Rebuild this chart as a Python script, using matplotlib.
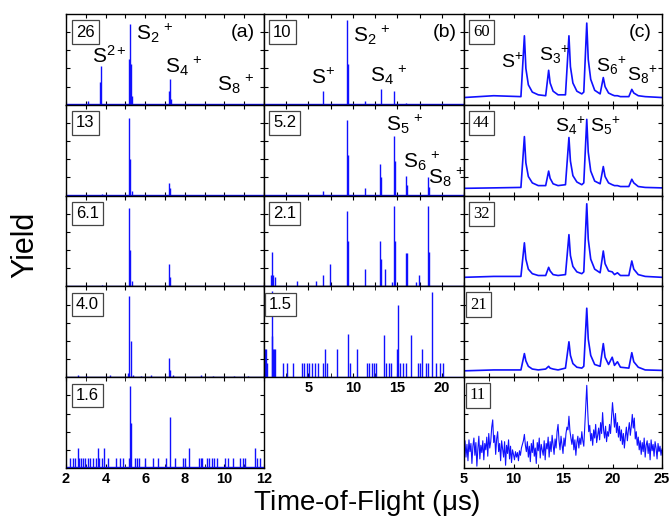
import numpy as np
import matplotlib
matplotlib.use('Agg')
import matplotlib.pyplot as plt

plt.rcParams['font.family'] = 'Liberation Sans'
plt.rcParams['mathtext.fontset'] = 'custom'
plt.rcParams['mathtext.rm'] = 'Liberation Sans'
plt.rcParams['mathtext.it'] = 'Liberation Sans'

# ---- column (a): stick spectra, TOF 2-12 us ----
a_energy = ['26', '13', '6.1', '4.0', '1.6']
tof_a1 = [3.13, 3.74, 3.78, 5.16, 5.22, 5.28, 5.34, 7.19, 7.23, 7.28]
yld_a1 = [0.04, 0.25, 0.43, 0.50, 0.89, 0.45, 0.10, 0.15, 0.28, 0.06]
tof_a2 = [3.80, 5.20, 5.24, 5.32, 7.20, 7.24]
yld_a2 = [0.02, 0.85, 0.40, 0.05, 0.135, 0.08]
tof_a3 = [3.80, 5.20, 5.24, 5.32, 7.22, 7.26]
yld_a3 = [0.02, 0.86, 0.40, 0.06, 0.25, 0.10]
tof_a4 = [2.6, 3.0, 4.2, 5.12, 5.20, 5.26, 5.40, 5.8, 6.3, 7.22, 7.26, 7.4, 8.8, 9.4, 10.5, 11.2]
yld_a4 = [0.02, 0.015, 0.025, 0.05, 0.89, 0.40, 0.02, 0.015, 0.02, 0.21, 0.08, 0.02, 0.02, 0.015, 0.015, 0.015]
tof_a5 = [2.20, 2.34, 2.45, 2.62, 2.67, 2.76, 2.88, 2.96, 3.13, 3.21, 3.38, 3.52, 3.60, 3.68,
          3.80, 3.92, 4.14, 4.53, 4.73, 4.90, 5.18, 5.22, 5.26, 5.48, 5.57, 5.70, 5.99, 6.41,
          6.66, 7.05, 7.25, 7.50, 7.93, 8.01, 8.23, 8.73, 8.80, 8.85, 9.10, 9.24, 9.36, 9.47,
          9.61, 10.03, 10.20, 10.42, 10.79, 10.92, 11.04, 11.55, 11.63, 11.80]
yld_a5 = [0.11, 0.11, 0.11, 0.22, 0.11, 0.11, 0.11, 0.11, 0.11, 0.11, 0.11, 0.11, 0.22, 0.11,
          0.11, 0.22, 0.11, 0.11, 0.11, 0.11, 0.11, 0.90, 0.50, 0.11, 0.11, 0.11, 0.11, 0.11,
          0.11, 0.11, 0.56, 0.11, 0.11, 0.11, 0.22, 0.11, 0.11, 0.11, 0.11, 0.11, 0.11, 0.11,
          0.11, 0.11, 0.11, 0.11, 0.11, 0.11, 0.11, 0.22, 0.11, 0.11]

# ---- column (b): stick spectra, TOF 0-22.5 us ----
b_energy = ['10', '5.2', '2.1', '1.5']
tof_b1 = [6.6, 9.36, 9.40, 11.4, 13.15, 14.65, 16.0, 18.6]
yld_b1 = [0.15, 0.93, 0.45, 0.044, 0.17, 0.156, 0.02, 0.01]
tof_b2 = [6.6, 9.36, 9.40, 11.4, 13.1, 13.15, 14.65, 14.70, 16.0, 16.05, 18.5, 18.55]
yld_b2 = [0.048, 0.83, 0.45, 0.085, 0.35, 0.20, 0.66, 0.38, 0.22, 0.12, 0.21, 0.10]
tof_b3 = [0.8, 0.94, 1.05, 1.2, 3.67, 5.84, 6.6, 7.42, 9.36, 9.40, 11.4, 13.1, 13.15, 13.6,
          14.4, 14.65, 14.7, 16.0, 16.05, 17.1, 17.4, 18.5, 18.55]
yld_b3 = [0.13, 0.38, 0.13, 0.10, 0.055, 0.055, 0.13, 0.25, 0.83, 0.50, 0.19, 0.50, 0.30, 0.19,
          0.05, 0.88, 0.50, 0.37, 0.37, 0.05, 0.13, 0.88, 0.38]
tof_b4 = [0.05, 0.15, 0.25, 0.35, 0.85, 0.95, 1.05, 1.15, 1.25, 2.10, 2.62, 3.30, 4.23, 4.49,
          4.79, 5.09, 5.36, 5.73, 6.10, 6.67, 6.85, 7.04, 8.16, 9.48, 9.66, 10.41, 11.61, 11.84,
          12.10, 12.36, 12.58, 13.48, 13.71, 14.08, 14.34, 14.91, 15.02, 15.28, 15.66, 16.03,
          16.59, 17.34, 17.60, 17.83, 18.20, 18.46, 18.95, 19.40, 19.78, 20.15]
yld_b4 = [0.31, 0.31, 0.31, 0.16, 0.45, 0.95, 0.31, 0.31, 0.31, 0.16, 0.16, 0.16, 0.16, 0.16,
          0.16, 0.16, 0.16, 0.16, 0.16, 0.16, 0.31, 0.16, 0.31, 0.48, 0.16, 0.31, 0.16, 0.16,
          0.16, 0.16, 0.16, 0.47, 0.16, 0.16, 0.16, 0.31, 0.79, 0.16, 0.16, 0.16,
          0.47, 0.16, 0.16, 0.31, 0.16, 0.16, 0.94, 0.16, 0.16, 0.16]

# ---- column (c): continuous traces, TOF 5-25 us ----
c_energy = ['60', '44', '32', '21', '11']
tof_c = [5.0, 8.0, 10.75, 11.1, 11.25, 11.5, 11.9, 12.5, 13.25, 13.55, 13.7, 14.0, 14.5, 15.25,
         15.6, 15.75, 16.0, 16.4, 16.9, 17.1, 17.4, 17.55, 17.8, 18.2, 18.75, 19.07, 19.25,
         19.6, 19.97, 20.2, 20.5, 20.8, 21.65, 21.95, 22.15, 22.6, 23.3, 25.0]
yld_c1 = [0.08, 0.10, 0.09, 0.76, 0.40, 0.22, 0.14, 0.11, 0.10, 0.38, 0.24, 0.15, 0.11, 0.11,
          0.76, 0.42, 0.24, 0.15, 0.12, 0.14, 0.90, 0.50, 0.28, 0.16, 0.12, 0.30, 0.20,
          0.13, 0.11, 0.10, 0.10, 0.09, 0.09, 0.17, 0.13, 0.10, 0.09, 0.08]
yld_c2 = [0.08, 0.085, 0.09, 0.65, 0.36, 0.21, 0.14, 0.11, 0.11, 0.27, 0.19, 0.13, 0.11, 0.12,
          0.64, 0.38, 0.22, 0.15, 0.12, 0.14, 0.84, 0.48, 0.27, 0.16, 0.13, 0.32, 0.21,
          0.14, 0.12, 0.11, 0.11, 0.10, 0.10, 0.18, 0.14, 0.10, 0.09, 0.085]
yld_c3 = [0.10, 0.11, 0.11, 0.48, 0.30, 0.19, 0.14, 0.12, 0.12, 0.21, 0.17, 0.13, 0.12, 0.13,
          0.57, 0.34, 0.22, 0.16, 0.14, 0.16, 0.91, 0.52, 0.30, 0.19, 0.15, 0.39, 0.25,
          0.17, 0.16, 0.13, 0.15, 0.12, 0.12, 0.28, 0.19, 0.13, 0.11, 0.10]
yld_c4 = [0.07, 0.08, 0.08, 0.26, 0.18, 0.12, 0.09, 0.08, 0.09, 0.12, 0.10, 0.09, 0.08, 0.10,
          0.39, 0.24, 0.15, 0.11, 0.10, 0.12, 0.76, 0.42, 0.24, 0.14, 0.12, 0.37, 0.22,
          0.14, 0.22, 0.13, 0.17, 0.11, 0.10, 0.27, 0.17, 0.11, 0.08, 0.075]
tof_c5 = np.linspace(5, 25, 201)
yld_c5 = [0.22, 0.30, 0.12, 0.26, 0.08, 0.31, 0.18, 0.27, 0.05, 0.24, 0.33, 0.14, 0.28, 0.02, 0.21, 0.35, 0.10, 0.25, 0.17, 0.30,
          0.09, 0.27, 0.20, 0.34, 0.13, 0.38, 0.22, 0.29, 0.45, 0.53, 0.28, 0.36, 0.15, 0.32, 0.40, 0.18, 0.27, 0.08, 0.30, 0.21,
          0.12, 0.29, 0.03, 0.25, 0.16, 0.31, 0.10, 0.24, 0.06, 0.20, 0.15, 0.09, 0.18, 0.12, 0.17, 0.08, 0.19, 0.14, 0.22, 0.26,
          0.30, 0.37, 0.25, 0.18, 0.29, 0.12, 0.24, 0.07, 0.27, 0.17, 0.31, 0.13, 0.22, 0.05, 0.28, 0.19, 0.33, 0.11, 0.26, 0.20,
          0.14, 0.30, 0.09, 0.27, 0.21, 0.34, 0.12, 0.29, 0.18, 0.36, 0.25, 0.15, 0.32, 0.22, 0.40, 0.48, 0.30, 0.20, 0.35, 0.26,
          0.16, 0.33, 0.24, 0.38, 0.45, 0.42, 0.57, 0.41, 0.33, 0.26, 0.37, 0.20, 0.31, 0.14, 0.28, 0.35, 0.22, 0.33, 0.26, 0.40,
          0.30, 0.24, 0.45, 0.68, 0.91, 0.62, 0.40, 0.47, 0.30, 0.38, 0.25, 0.42, 0.33, 0.48, 0.28, 0.36, 0.44, 0.31, 0.50, 0.38,
          0.61, 0.42, 0.33, 0.46, 0.29, 0.40, 0.35, 0.48, 0.38, 0.55, 0.72, 0.58, 0.45, 0.60, 0.39, 0.50, 0.34, 0.46, 0.30, 0.42,
          0.26, 0.38, 0.22, 0.35, 0.45, 0.30, 0.41, 0.50, 0.36, 0.46, 0.59, 0.44, 0.55, 0.32, 0.40, 0.25, 0.34, 0.20, 0.30, 0.15,
          0.28, 0.18, 0.33, 0.12, 0.25, 0.30, 0.16, 0.27, 0.09, 0.31, 0.19, 0.26, 0.13, 0.29, 0.22, 0.10, 0.27, 0.18, 0.24, 0.14, 0.21]

BLUE = '#1010ff'
W, H = 670.0, 529.0
ROW_H = 90.8
TOP = 14.0


def make_ax(fig, left_px, width_px, row):
    top = TOP + row * ROW_H
    ax = fig.add_axes([left_px / W, 1 - (top + ROW_H) / H, width_px / W, ROW_H / H])
    ax.set_ylim(0, 1)
    ax.set_yticks(np.arange(0.2, 1.0, 0.2))
    ax.tick_params(direction='in', length=3, width=0.8, top=True, right=True,
                   labelleft=False, labelbottom=False)
    for s in ax.spines.values():
        s.set_linewidth(1.0)
    return ax


def label_box(ax, txt, x=0.05, serif=False):
    fam = 'Liberation Serif' if serif else 'Liberation Sans'
    ax.text(x, 0.80, txt, transform=ax.transAxes, ha='left', va='center', fontsize=12,
            family=fam, bbox=dict(boxstyle='square,pad=0.25', fc='white', ec='#444444', lw=0.9),
            zorder=5)


def ion(ax, x, y, n, charge='+', size=15, gap=True):
    sp = r'\,' if gap else ''
    if n:
        s = r'S$_{%s}$$^{%s%s}$' % (n, sp, charge)
    else:
        s = r'S$^{%s}$' % charge
    ax.text(x, y, s, transform=ax.transAxes, ha='left', va='baseline', fontsize=size, zorder=6)


def bottom_labels(ax):
    ax.tick_params(which='minor', direction='in', length=3, top=True)
    ax.tick_params(labelbottom=True, pad=3)
    for t in ax.get_xticklabels():
        t.set_fontsize(10.5)
        t.set_fontweight('bold')


fig = plt.figure(figsize=(6.7, 5.29), dpi=100)

# column (a)
a_tof = [tof_a1, tof_a2, tof_a3, tof_a4, tof_a5]
a_yld = [yld_a1, yld_a2, yld_a3, yld_a4, yld_a5]
for r in range(5):
    ax = make_ax(fig, 66, 198, r)
    ax.set_xlim(2, 12)
    ax.set_xticks(np.arange(2, 12.1, 1))
    ax.plot([2, 12], [0.006, 0.006], color=BLUE, lw=1.0)
    ax.vlines(a_tof[r], 0, a_yld[r], color=BLUE, lw=1.0)
    label_box(ax, a_energy[r])
    if r == 4:
        ax.set_xticks(np.arange(2, 12.1, 2))
        ax.set_xticks(np.arange(3, 12, 2), minor=True)
        bottom_labels(ax)
a0 = fig.axes[0]
ion(a0, 0.13, 0.46, None, '2+')
ion(a0, 0.354, 0.72, '2')
ion(a0, 0.50, 0.35, '4')
ion(a0, 0.764, 0.16, '8')
a0.text(0.955, 0.80, '(a)', transform=a0.transAxes, ha='right', va='center', fontsize=14)

# column (b)
b_tof = [tof_b1, tof_b2, tof_b3, tof_b4]
b_yld = [yld_b1, yld_b2, yld_b3, yld_b4]
b_axes = []
for r in range(4):
    ax = make_ax(fig, 264, 200, r)
    ax.set_xlim(0, 22.5)
    ax.set_xticks(np.arange(0, 22.6, 2.5))
    ax.plot([0, 22.5], [0.006, 0.006], color=BLUE, lw=1.0)
    ax.vlines(b_tof[r], 0, b_yld[r], color=BLUE, lw=1.0)
    label_box(ax, b_energy[r], x=0.045 if r < 3 else 0.025)
    b_axes.append(ax)
    if r == 3:
        ax.set_xticks([5, 10, 15, 20])
        ax.set_xticks([0, 2.5, 7.5, 12.5, 17.5, 22.5], minor=True)
        bottom_labels(ax)
ion(b_axes[0], 0.233, 0.23, None, '+')
ion(b_axes[0], 0.447, 0.69, '2')
ion(b_axes[0], 0.53, 0.25, '4')
b_axes[0].text(0.963, 0.80, '(b)', transform=b_axes[0].transAxes, ha='right', va='center', fontsize=14)
ion(b_axes[1], 0.61, 0.71, '5')
ion(b_axes[1], 0.693, 0.31, '6')
ion(b_axes[1], 0.82, 0.13, '8')

# column (c)
c_tof = [tof_c, tof_c, tof_c, tof_c, tof_c5]
c_yld = [yld_c1, yld_c2, yld_c3, yld_c4, yld_c5]
c_axes = []
for r in range(5):
    ax = make_ax(fig, 464, 198, r)
    ax.set_xlim(5, 25)
    ax.set_xticks(np.arange(5, 25.1, 2.5))
    ax.plot(c_tof[r], c_yld[r], color=BLUE, lw=1.2 if r < 4 else 0.8)
    label_box(ax, c_energy[r], x=0.045 if r < 3 else 0.03, serif=True)
    c_axes.append(ax)
    if r == 4:
        ax.set_xticks([5, 10, 15, 20, 25])
        ax.set_xticks([7.5, 12.5, 17.5, 22.5], minor=True)
        bottom_labels(ax)
ion(c_axes[0], 0.187, 0.41, None, '+', size=14)
ion(c_axes[0], 0.377, 0.49, '3', size=14, gap=False)
ion(c_axes[0], 0.665, 0.36, '6', size=14, gap=False)
ion(c_axes[0], 0.825, 0.27, '8', size=14, gap=False)
c_axes[0].text(0.95, 0.80, '(c)', transform=c_axes[0].transAxes, ha='right', va='center', fontsize=14)
ion(c_axes[1], 0.46, 0.70, '4', size=14, gap=False)
ion(c_axes[1], 0.637, 0.70, '5', size=14, gap=False)

fig.text(25 / W, 1 - 245 / H, 'Yield', rotation=90, ha='center', va='center', fontsize=22)
fig.text(367 / W, 1 - 503 / H, r'Time-of-Flight ($\mu$s)', ha='center', va='center', fontsize=20)

fig.savefig('out.png', dpi=100)
